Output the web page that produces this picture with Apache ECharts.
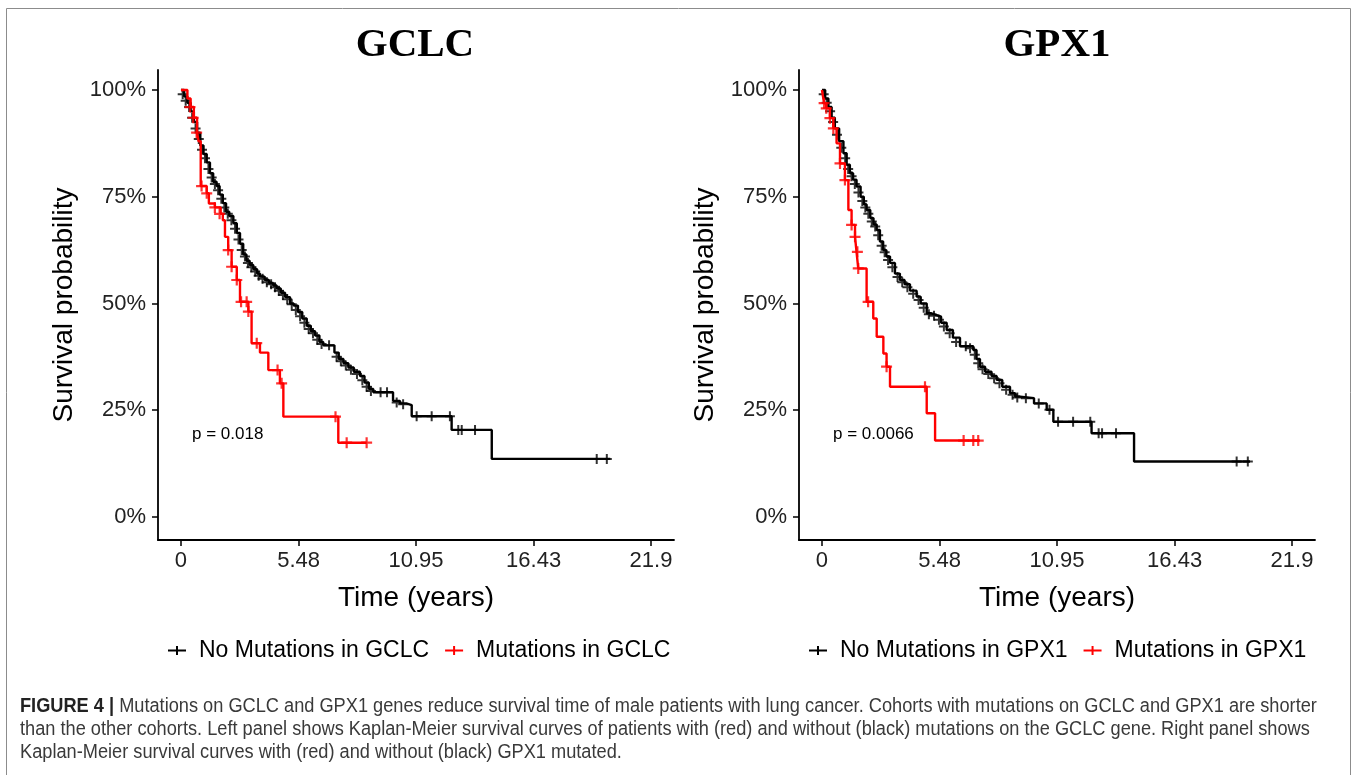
<!DOCTYPE html>
<html>
<head>
<meta charset="utf-8">
<script src="https://cdn.jsdelivr.net/npm/echarts@6/dist/echarts.min.js"></script>
<style>
html,body{margin:0;padding:0;background:#fff}
#main{width:1357px;height:775px}
</style>
</head>
<body>
<div id="main"></div>
<script>
// tick positions (years) and survival ticks (%)
var xTicks = [0, 5.48, 10.95, 16.43, 21.9];
var yTicks = [0, 25, 50, 75, 100];

// GCLC panel: [time, survival %] at each drop
var gclcNoMut = [[0,100],[0.15,98.5],[0.3,97],[0.45,95],[0.6,92.5],[0.75,90],[0.9,87],[1.05,85],[1.2,83],[1.35,80.5],
  [1.5,78.5],[1.66,77.5],[1.8,75.5],[1.95,73.5],[2.1,71.5],[2.25,70.5],[2.44,68.8],[2.6,66.5],[2.75,64],[2.9,61.5],
  [3.05,60],[3.2,59],[3.37,58],[3.55,57],[3.68,56.3],[3.9,55.5],[4.1,54.8],[4.3,54.2],[4.46,53.5],[4.65,52.5],
  [4.85,51.5],[5.08,50],[5.25,49.5],[5.45,48],[5.65,46.5],[5.86,44.8],[6.05,43.5],[6.25,42.5],[6.45,41],[6.63,40.2],
  [7.15,38.5],[7.35,37],[7.57,36],[7.8,35],[8.05,34],[8.34,33],[8.55,31.5],[8.75,30],[8.96,29.2],[9.88,27.2],
  [10.2,26.6],[10.5,26.2],[10.75,23.6],[12.61,20.4],[14.48,13.6],[20.0,13.6]];
// extra censored times on the black curve
var gclcNoMutCens = [[0.08,99],[0.22,97.5],[0.38,96],[0.52,93.5],[0.68,91],[0.83,88.5],[0.98,86],[1.12,84],[1.28,81.5],
  [1.43,79.5],[1.58,78],[1.73,76.5],[1.88,74.5],[2.02,72.5],[2.18,71],[2.35,69.5],[2.52,67.5],[2.68,65],[2.83,62.5],
  [2.98,61],[3.12,59.5],[3.28,58.5],[3.46,57.5],[3.62,56.5],[3.8,55.8],[4.0,55],[4.2,54.5],[4.38,53.8],[4.56,53],
  [4.75,52],[4.95,51],[5.16,49.8],[5.35,48.5],[5.55,47],[5.75,45.5],[5.95,44],[6.15,43],[6.35,41.5],[6.55,40.5],
  [6.9,40.2],[7.25,37.5],[7.45,36.5],[7.68,35.5],[7.92,34.5],[8.2,33.5],[8.45,32],[8.65,30.5],[8.85,29.5],[9.3,29.2],
  [9.6,29.2],[10.05,26.8],[10.35,26.4],[10.98,23.6],[11.68,23.6],[12.53,23.6],[12.92,20.4],[13.08,20.4],[13.7,20.4],
  [19.37,13.6],[19.84,13.6]];
var gclcMut = [[0,100],[0.3,98],[0.45,96],[0.6,93.5],[0.75,90],[0.82,88],[0.92,77.5],[1.2,75.8],[1.3,73.4],[1.58,72.5],
  [1.85,71],[1.95,69.5],[2.05,65.6],[2.2,62.5],[2.36,58.6],[2.6,55.5],[2.75,50.4],[3.14,48.1],[3.29,40.7],[3.68,38.5],
  [4.07,34.4],[4.61,31.3],[4.77,23.5],[7.33,17.4],[8.65,17.4]];
var gclcMutCens = [[0.42,96],[0.57,93.5],[0.73,90],[0.96,77.5],[1.2,75.8],[1.58,72.5],[1.8,71],[2.2,62.5],[2.36,58.6],
  [2.6,55.5],[2.8,50.4],[3.06,50.4],[3.14,48.1],[3.53,40.7],[4.5,34.4],[4.69,31.3],[7.2,23.5],[7.72,17.4],[8.65,17.4]];

// GPX1 panel
var gpx1NoMut = [[0,100],[0.15,98],[0.3,96],[0.45,93.5],[0.6,91],[0.8,88],[1.0,85.2],[1.15,82.5],[1.3,80.5],[1.45,79],
  [1.61,77.4],[1.8,75],[1.95,73.2],[2.08,71.9],[2.25,70],[2.4,68.5],[2.55,67.2],[2.7,64.5],[2.85,62.5],[3.0,61],
  [3.17,59.5],[3.4,57],[3.63,55.5],[3.85,54.5],[4.1,53],[4.41,51.6],[4.6,50],[4.88,47.7],[5.1,47.3],[5.34,46.9],
  [5.55,45.5],[5.81,43.8],[6.1,42],[6.43,40],[7.05,39.1],[7.2,37],[7.36,35.2],[7.6,34],[7.9,33],[8.14,32.1],
  [8.4,30.5],[8.76,29],[9.0,28.2],[9.23,27.8],[9.88,26.6],[10.47,25.1],[10.78,22.3],[12.56,19.6],[14.54,13.0],[19.94,13.0]];
var gpx1NoMutCens = [[0.08,99],[0.22,97],[0.38,95],[0.52,92.5],[0.7,89.5],[0.9,86.5],[1.08,84],[1.22,81.5],[1.38,79.8],
  [1.53,78],[1.7,76],[1.88,74],[2.02,72.5],[2.16,71],[2.32,69.2],[2.48,68],[2.62,66],[2.78,63.5],[2.92,62],[3.08,60.2],
  [3.28,58.5],[3.52,56.2],[3.74,55],[3.98,53.8],[4.25,52.3],[4.5,50.8],[4.74,49],[4.98,47.5],[5.22,47.1],[5.45,46.2],
  [5.68,44.6],[5.95,43],[6.25,41],[6.7,40],[6.9,39.5],[7.12,38],[7.28,36],[7.48,34.6],[7.75,33.5],[8.02,32.5],
  [8.27,31.3],[8.58,29.8],[8.88,28.6],[9.1,28],[9.5,27.8],[10.1,26.6],[10.6,25.1],[11.0,22.3],[11.7,22.3],[12.5,22.3],
  [12.89,19.6],[13.05,19.6],[13.7,19.6],[19.32,13],[19.84,13]];
var gpx1Mut = [[0,100],[0.05,98.4],[0.1,96.9],[0.2,95.7],[0.37,93.4],[0.53,91],[0.68,87.5],[0.84,82.8],[1.07,78.9],[1.23,71.9],
  [1.38,68.4],[1.54,65.6],[1.61,62.1],[1.69,58.2],[2.08,50.4],[2.39,46.5],[2.55,42.2],[2.86,38.3],[3.01,35.2],[3.17,30.5],
  [4.88,24.3],[5.27,17.9],[7.36,17.9]];
var gpx1MutCens = [[0.1,96.9],[0.2,95.7],[0.37,93.4],[0.53,91],[0.84,82.8],[1.07,78.9],[1.38,68.4],[1.54,65.6],[1.65,62.1],
  [1.69,58.2],[2.15,50.4],[3.01,35.2],[4.8,30.5],[6.6,17.9],[7.05,17.9],[7.28,17.9]];

var panels = [
  {title: 'GCLC', p: 'p = 0.018', noMut: gclcNoMut, noMutCens: gclcNoMutCens, mut: gclcMut, mutCens: gclcMutCens},
  {title: 'GPX1', p: 'p = 0.0066', noMut: gpx1NoMut, noMutCens: gpx1NoMutCens, mut: gpx1Mut, mutCens: gpx1MutCens}
];

var plus = 'path://M0,4H10V6H0Z M4,0H6V10H4Z';
var legendIcon = 'path://M0,5H18V7H0Z M8,1.5H10V10.5H8Z';
var gridLeft = [158, 799];
var titleX = [415, 1057];

var myChart = echarts.init(document.getElementById('main'));

var grids = [], xAxes = [], yAxes = [], series = [], legends = [], graphics = [];

panels.forEach(function(pn, k){
  grids.push({left: gridLeft[k], top: 70, width: 516, height: 470});
  xAxes.push({
    type: 'value', gridIndex: k, min: -1.07, max: 22.97,
    splitLine: {show: false},
    axisLine: {onZero: false, lineStyle: {color: '#000', width: 1.8}},
    axisTick: {customValues: xTicks, length: 6, lineStyle: {color: '#000', width: 1.5}},
    axisLabel: {customValues: xTicks, fontSize: 22, color: '#222', margin: 10,
      formatter: function(v){ return String(v); }},
    name: 'Time (years)', nameLocation: 'middle', nameGap: 44,
    nameTextStyle: {fontSize: 28, color: '#000'}
  });
  yAxes.push({
    type: 'value', gridIndex: k, min: -5.39, max: 104.68,
    splitLine: {show: false},
    axisLine: {onZero: false, lineStyle: {color: '#000', width: 1.8}},
    axisTick: {customValues: yTicks, length: 6, lineStyle: {color: '#000', width: 1.5}},
    axisLabel: {customValues: yTicks, fontSize: 22, color: '#222', margin: 12, formatter: '{value}%'},
    name: 'Survival probability', nameLocation: 'middle', nameGap: 80, nameRotate: 90,
    nameTextStyle: {fontSize: 28, color: '#000'}
  });
  var n1 = 'No Mutations in ' + pn.title, n2 = 'Mutations in ' + pn.title;
  series.push({
    name: n1, type: 'line', step: 'end', xAxisIndex: k, yAxisIndex: k, data: pn.noMut,
    showSymbol: false, symbol: 'none', color: '#000', lineStyle: {color: '#000', width: 2.4}, z: 2
  });
  series.push({
    type: 'scatter', xAxisIndex: k, yAxisIndex: k, data: pn.noMutCens,
    symbol: plus, symbolSize: 10, itemStyle: {color: '#000'}, z: 2
  });
  series.push({
    name: n2, type: 'line', step: 'end', xAxisIndex: k, yAxisIndex: k, data: pn.mut,
    showSymbol: false, symbol: 'none', color: '#ff0000', lineStyle: {color: '#ff0000', width: 2.4}, z: 3
  });
  series.push({
    type: 'scatter', xAxisIndex: k, yAxisIndex: k, data: pn.mutCens,
    symbol: plus, symbolSize: 11, itemStyle: {color: '#ff0000'}, z: 3
  });
  legends.push({
    left: gridLeft[k] + 5, top: 634, itemWidth: 18, itemHeight: 12, itemGap: 16,
    data: [{name: n1, icon: legendIcon}, {name: n2, icon: legendIcon}],
    textStyle: {fontSize: 23, color: '#000', padding: [0, 0, 0, 8]}
  });
  graphics.push({type: 'text', style: {text: pn.title, x: titleX[k], y: 45, align: 'center', verticalAlign: 'middle',
    font: 'bold 41px "Liberation Serif", serif', fill: '#000'}});
  graphics.push({type: 'text', style: {text: pn.p, x: gridLeft[k] + 34, y: 434, verticalAlign: 'middle',
    font: '17px "Liberation Sans", Arial, sans-serif', fill: '#000'}});
});

graphics.push({type: 'polyline', shape: {points: [[6.5, 776], [6.5, 8.5], [1350.5, 8.5], [1350.5, 776]]},
  style: {stroke: '#8c8c8c', fill: null, lineWidth: 1}});

// caption: condensed look by squeezing horizontally
var capFont = '"Liberation Sans", Arial, sans-serif';
var capLines = [
  '{b|FIGURE 4 |} Mutations on GCLC and GPX1 genes reduce survival time of male patients with lung cancer. Cohorts with mutations on GCLC and GPX1 are shorter',
  'than the other cohorts. Left panel shows Kaplan-Meier survival curves of patients with (red) and without (black) mutations on the GCLC gene. Right panel shows',
  'Kaplan-Meier survival curves with (red) and without (black) GPX1 mutated.'
];
capLines.forEach(function(t, i){
  graphics.push({type: 'text', x: 20, y: 706 + i * 23, scaleX: 0.91,
    style: {text: t, x: 0, y: 0, verticalAlign: 'middle',
      fontSize: 20, fontFamily: capFont, fill: '#3a3a3a',
      rich: {b: {fontSize: 20, fontFamily: capFont, fontWeight: 'bold', fill: '#222'}}}});
});

var option = {
  animation: false,
  backgroundColor: '#fff',
  textStyle: {fontFamily: '"Liberation Sans", Arial, sans-serif'},
  grid: grids,
  xAxis: xAxes,
  yAxis: yAxes,
  legend: legends,
  series: series,
  graphic: graphics
};
myChart.setOption(option);
</script>
</body>
</html>
